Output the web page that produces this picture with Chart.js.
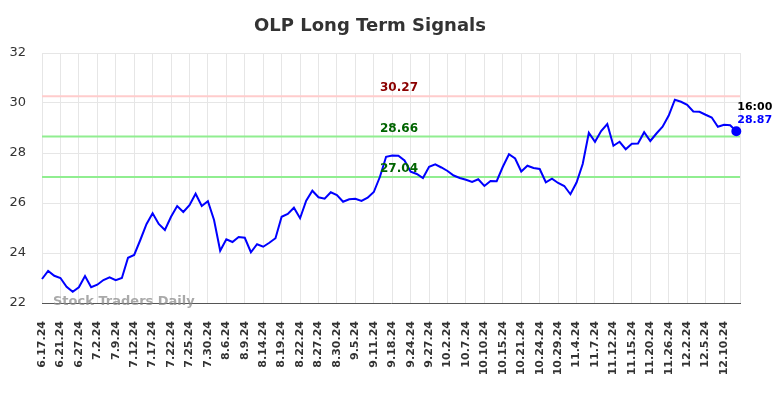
<!DOCTYPE html>
<html>
<head>
<meta charset="utf-8">
<script src="https://cdn.jsdelivr.net/npm/chart.js@4"></script>
<style>
  html, body { margin: 0; padding: 0; background: #fff; }
  #wrap { width: 784px; height: 398px; }
</style>
</head>
<body>
<div id="wrap"><canvas id="myChart" width="784" height="398"></canvas></div>
<script>
// tick labels, one every 3 points
const tickLabels = ['6.17.24', '6.21.24', '6.27.24', '7.2.24', '7.9.24', '7.12.24', '7.17.24', '7.22.24',
    '7.25.24', '7.30.24', '8.6.24', '8.9.24', '8.14.24', '8.19.24', '8.22.24', '8.27.24', '8.30.24',
    '9.5.24', '9.11.24', '9.18.24', '9.24.24', '9.27.24', '10.2.24', '10.7.24', '10.10.24', '10.15.24',
    '10.21.24', '10.24.24', '10.29.24', '11.4.24', '11.7.24', '11.12.24', '11.15.24', '11.20.24',
    '11.26.24', '12.2.24', '12.5.24', '12.10.24'];

const prices = [
    22.96, 23.28, 23.09, 23.00, 22.65, 22.45, 22.63, 23.08, 22.63, 22.73,
    22.92, 23.03, 22.91, 23.00, 23.81, 23.92, 24.52, 25.15, 25.59, 25.16,
    24.92, 25.45, 25.88, 25.64, 25.91, 26.37, 25.88, 26.07, 25.32, 24.09,
    24.55, 24.44, 24.64, 24.61, 24.03, 24.35, 24.25, 24.41, 24.59, 25.45,
    25.56, 25.81, 25.39, 26.09, 26.49, 26.23, 26.17, 26.43, 26.32, 26.05,
    26.15, 26.17, 26.08, 26.21, 26.44, 27.05, 27.85, 27.90, 27.89, 27.70,
    27.25, 27.16, 27.00, 27.45, 27.55, 27.42, 27.28, 27.10, 27.00, 26.93,
    26.84, 26.95, 26.68, 26.88, 26.87, 27.45, 27.95, 27.78, 27.26, 27.49,
    27.40, 27.36, 26.83, 26.97, 26.80, 26.68, 26.35, 26.82, 27.56, 28.81,
    28.45, 28.88, 29.16, 28.29, 28.45, 28.15, 28.37, 28.38, 28.83, 28.48,
    28.78, 29.05, 29.50, 30.13, 30.05, 29.93, 29.66, 29.65, 29.53, 29.42,
    29.05, 29.13, 29.11, 28.87
];

const levels = [30.27, 28.66, 27.04];
const lastTime = '16:00';

const FONT = "'DejaVu Sans', sans-serif";

const levelPlugin = {
    id: 'levels',
    beforeDatasetsDraw(chart) {
        const { ctx, chartArea, scales } = chart;
        ctx.save();
        levels.forEach((v, i) => {
            const y = scales.y.getPixelForValue(v);
            ctx.strokeStyle = i === 0 ? '#ffcccc' : '#90ee90';
            ctx.lineWidth = 2;
            ctx.beginPath();
            ctx.moveTo(chartArea.left, y);
            ctx.lineTo(chartArea.right, y);
            ctx.stroke();
        });
        ctx.restore();
    },
    afterDatasetsDraw(chart) {
        const { ctx, chartArea, scales } = chart;
        ctx.save();
        ctx.font = 'bold 12px ' + FONT;
        ctx.textAlign = 'center';
        ctx.textBaseline = 'middle';
        levels.forEach((v, i) => {
            const y = scales.y.getPixelForValue(v);
            ctx.fillStyle = i === 0 ? '#8b0000' : '#006400';
            ctx.fillText(v.toFixed(2), 399, y - 8);
        });

        // last value annotation
        const last = prices.length - 1;
        const px = scales.x.getPixelForValue(last);
        const py = scales.y.getPixelForValue(prices[last]);
        ctx.font = 'bold 11px ' + FONT;
        ctx.textAlign = 'left';
        ctx.fillStyle = '#000';
        ctx.fillText(lastTime, px + 1, py - 24);
        ctx.fillStyle = '#0000ff';
        ctx.fillText(prices[last].toFixed(2), px + 1, py - 11);

        // watermark
        ctx.font = 'bold 13px ' + FONT;
        ctx.fillStyle = 'rgba(140,140,140,0.75)';
        ctx.textBaseline = 'middle';
        ctx.fillText('Stock Traders Daily', 53, chartArea.bottom - 1);
        ctx.restore();
    }
};

const ctx = document.getElementById('myChart').getContext('2d');
new Chart(ctx, {
    type: 'line',
    data: {
        datasets: [{
            data: prices.map((p, i) => ({ x: i, y: p })),
            borderColor: '#0000ff',
            borderWidth: 2,
            tension: 0,
            fill: false,
            clip: false,
            pointRadius: c => c.dataIndex === prices.length - 1 ? 4 : 0,
            pointBackgroundColor: '#0000ff',
            pointBorderColor: '#0000ff',
        }]
    },
    options: {
        responsive: false,
        animation: false,
        layout: { padding: { left: 0, right: 44, top: 0, bottom: 0 } },
        plugins: {
            legend: { display: false },
            tooltip: { enabled: false },
            title: {
                display: true,
                text: 'OLP Long Term Signals',
                color: '#333',
                font: { family: FONT, size: 18, weight: 'bold' },
                padding: { top: 16, bottom: 15.4 }
            }
        },
        scales: {
            x: {
                type: 'linear',
                min: 0,
                max: 113.6,
                afterFit: s => { s.height = 95; },
                grid: { color: '#e6e6e6', drawTicks: false },
                border: { color: '#555', width: 1 },
                ticks: {
                    stepSize: 3,
                    autoSkip: false,
                    maxRotation: 90,
                    minRotation: 90,
                    padding: 18,
                    color: '#333',
                    font: { family: FONT, size: 11, weight: 'bold' },
                    callback: v => tickLabels[v / 3] || ''
                }
            },
            y: {
                min: 22,
                max: 32,
                afterFit: s => { s.width = 42; },
                grid: { color: '#e6e6e6', drawTicks: false },
                border: { display: false },
                ticks: {
                    stepSize: 2,
                    padding: 16,
                    color: '#333',
                    font: { family: FONT, size: 13 }
                }
            }
        }
    },
    plugins: [levelPlugin]
});
</script>
</body>
</html>
